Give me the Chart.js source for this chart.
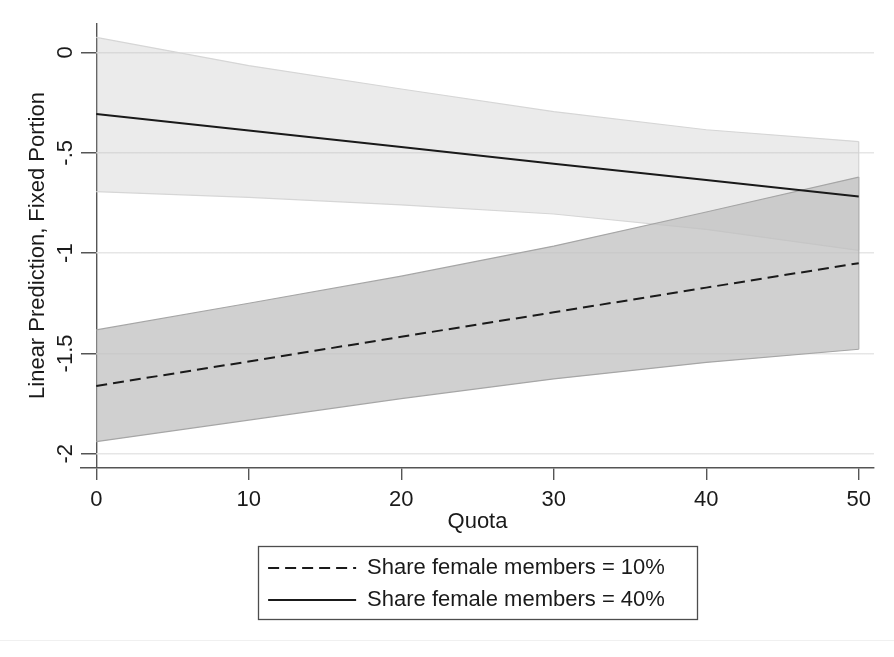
<!DOCTYPE html>
<html><head><meta charset="utf-8">
<script src="https://cdn.jsdelivr.net/npm/chart.js@4.4.1/dist/chart.umd.min.js"></script>
<style>
html,body{margin:0;padding:0;background:#fff;}
#wrap{position:relative;width:894px;height:657px;}
#edge{position:absolute;left:0;top:640px;width:894px;height:1px;background:#f0f0f0;}
</style></head><body>
<div id="wrap"><canvas id="c" width="894" height="657"></canvas><div id="edge"></div></div>
<script>
const quota = [0, 10, 20, 30, 40, 50];
const pred10 = [-1.662, -1.540, -1.417, -1.295, -1.172, -1.050];
const lo10 = [-1.940, -1.832, -1.725, -1.627, -1.545, -1.479];
const hi10 = [-1.383, -1.250, -1.115, -0.965, -0.795, -0.621];
const pred40 = [-0.307, -0.389, -0.471, -0.554, -0.636, -0.718];
const lo40 = [-0.693, -0.722, -0.760, -0.805, -0.882, -0.986];
const hi40 = [0.075, -0.065, -0.182, -0.295, -0.385, -0.444];
const xTickValues = [0, 10, 20, 30, 40, 50];
const yTickValues = [-2, -1.5, -1, -0.5, 0];
const yTickLabels = ['-2', '-1.5', '-1', '-.5', '0'];
const seriesNames = ['Share female members = 10%', 'Share female members = 40%'];
const xTitle = 'Quota';
const yTitle = 'Linear Prediction, Fixed Portion';

const pts = (xs, ys) => xs.map((x, i) => ({x: x, y: ys[i]}));
const last = quota.length - 1;

Chart.defaults.font.family = "Arial, 'Liberation Sans', sans-serif";
Chart.defaults.font.size = 22;
Chart.defaults.color = '#1a1a1a';

const legendFrame = {
  id: 'legendFrame',
  afterLayout(chart) {
    const lg = chart.legend;
    lg.left -= 11; lg.right -= 11;
  },
  afterDraw(chart) {
    const lg = chart.legend, ca = chart.chartArea, ctx = chart.ctx;
    const cx = (ca.left + ca.right) / 2, w = 439, h = 73;
    ctx.save();
    ctx.strokeStyle = '#4d4d4d';
    ctx.lineWidth = 1.3;
    ctx.strokeRect(Math.round(cx - w / 2) + 0.5, Math.round(lg.top) - 0.5, w, h);
    ctx.restore();
  }
};

const lightFill = 'rgba(190,190,190,0.30)';
const lightEdge = '#d6d6d6';
const darkFill = 'rgba(192,192,192,0.75)';
const darkEdge = '#a6a6a6';

new Chart(document.getElementById('c'), {
  type: 'line',
  data: {
    datasets: [
      {label: 'lo40', data: pts(quota, lo40), borderColor: lightEdge, borderWidth: 1.2, pointRadius: 0, fill: false, order: 3},
      {label: 'hi40', data: pts(quota, hi40), borderColor: lightEdge, borderWidth: 1.2, pointRadius: 0, fill: '-1', backgroundColor: lightFill, order: 3},
      {label: 'lo10', data: pts(quota, lo10), borderColor: darkEdge, borderWidth: 1.2, pointRadius: 0, fill: false, order: 2},
      {label: 'hi10', data: pts(quota, hi10), borderColor: darkEdge, borderWidth: 1.2, pointRadius: 0, fill: '-1', backgroundColor: darkFill, order: 2},
      {label: 'end40', data: [{x: quota[last], y: lo40[last]}, {x: quota[last], y: hi40[last]}], borderColor: lightEdge, borderWidth: 1.2, pointRadius: 0, fill: false, order: 3},
      {label: 'end10', data: [{x: quota[last], y: lo10[last]}, {x: quota[last], y: hi10[last]}], borderColor: darkEdge, borderWidth: 1.2, pointRadius: 0, fill: false, order: 2},
      {label: seriesNames[0], data: pts(quota, pred10), borderColor: '#1a1a1a', backgroundColor: '#1a1a1a', borderWidth: 2, borderDash: [11, 6], pointRadius: 0, fill: false, order: 0},
      {label: seriesNames[1], data: pts(quota, pred40), borderColor: '#1a1a1a', backgroundColor: '#1a1a1a', borderWidth: 2, pointRadius: 0, fill: false, order: 0}
    ]
  },
  options: {
    responsive: false,
    devicePixelRatio: 1,
    animation: false,
    layout: {padding: {top: 23, right: 20, left: 25, bottom: 36}},
    elements: {line: {tension: 0}},
    plugins: {
      tooltip: {enabled: false},
      legend: {
        position: 'bottom',
        fullSize: false,
        labels: {
          usePointStyle: true,
          pointStyle: 'line',
          pointStyleWidth: 88,
          padding: 10,
          color: '#1a1a1a',
          font: {size: 22},
          generateLabels: (chart) => {
            const items = Chart.defaults.plugins.legend.labels.generateLabels(chart);
            items.forEach(it => {
              const ds = chart.data.datasets[it.datasetIndex];
              it.lineDash = ds.borderDash || [];
              it.lineWidth = ds.borderWidth;
              it.strokeStyle = ds.borderColor;
              it.pointStyle = 'line';
            });
            return items.filter(it => seriesNames.includes(it.text));
          }
        }
      }
    },
    scales: {
      x: {
        type: 'linear',
        min: -1,
        max: 51,
        afterBuildTicks: (s) => { s.ticks = xTickValues.map(v => ({value: v})); },
        afterFit: (s) => { s.height = 79; },
        ticks: {padding: 7, color: '#1a1a1a', font: {size: 22}, callback: (v) => String(v), maxRotation: 0},
        grid: {
          drawOnChartArea: true,
          drawTicks: true,
          tickLength: 12,
          lineWidth: 1.4,
          color: (c) => (c.tick && c.tick.value === 0) ? '#555555' : 'rgba(0,0,0,0)',
          tickColor: '#555555'
        },
        border: {display: true, color: '#555555', width: 1.4},
        title: {display: true, text: xTitle, color: '#1a1a1a', font: {size: 22}, padding: {top: 0, bottom: 12}}
      },
      y: {
        type: 'linear',
        min: -2.071,
        max: 0.147,
        afterBuildTicks: (s) => { s.ticks = yTickValues.map(v => ({value: v})); },
        afterFit: (s) => { s.width = 56; },
        ticks: {
          padding: -4,
          minRotation: 90,
          maxRotation: 90,
          crossAlign: 'center',
          color: '#1a1a1a',
          font: {size: 22},
          callback: (v, i) => yTickLabels[i]
        },
        grid: {
          drawTicks: false,
          lineWidth: 1.4,
          color: (c) => {
            const chart = c.chart, ca = chart.chartArea;
            if (!ca || !chart.scales.x) return '#e6e6e6';
            const x0 = chart.scales.x.getPixelForValue(0);
            const f = Math.max(0, Math.min(0.999, (x0 - ca.left) / (ca.right - ca.left)));
            const g = chart.ctx.createLinearGradient(ca.left, 0, ca.right, 0);
            g.addColorStop(0, '#555555');
            g.addColorStop(f, '#555555');
            g.addColorStop(f + 0.0005, '#e6e6e6');
            g.addColorStop(1, '#e6e6e6');
            return g;
          }
        },
        border: {display: false},
        title: {display: true, text: yTitle, color: '#1a1a1a', font: {size: 22}, padding: {top: 0, bottom: 0}}
      }
    }
  },
  plugins: [legendFrame]
});
</script>
</body></html>
